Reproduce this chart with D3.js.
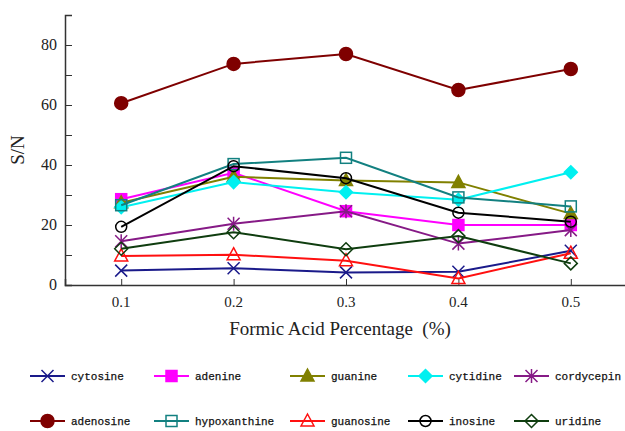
<!DOCTYPE html>
<html lang="en">
<head>
  <meta charset="UTF-8" />
  <title>S/N vs Formic Acid Percentage</title>
  <script src="https://d3js.org/d3.v7.min.js"></script>
  <style>
    html, body { margin: 0; padding: 0; background: #fff; }
    svg { display: block; }
    .axis-text { font-family: "Liberation Serif", "DejaVu Serif", serif; fill: #222; }
    .legend-text { font-family: "Liberation Mono", "DejaVu Sans Mono", monospace; font-size: 11px; fill: #111; stroke: #111; stroke-width: 0.25px; }
  </style>
</head>
<body>
<div id="chart"></div>
<script>
const percents = [0.1, 0.2, 0.3, 0.4, 0.5];
const yTicks = [0, 20, 40, 60, 80];

const cytosine     = [4.8, 5.6, 4.2, 4.4, 11.4];
const adenine      = [28.6, 37.4, 24.6, 20, 20];
const guanine      = [27.4, 36.1, 34.8, 34.2, 23.8];
const cytidine     = [25.9, 34.3, 30.9, 28.4, 37.6];
const cordycepin   = [14.6, 20.4, 24.6, 13.8, 18.3];
const adenosine    = [60.6, 73.7, 77, 65, 72];
const hypoxanthine = [26.6, 40.3, 42.4, 29.2, 26.2];
const guanosine    = [9.7, 10.1, 8.1, 2.2, 10.6];
const inosine      = [19.4, 39.6, 35.6, 24.1, 21.1];
const uridine      = [12.1, 17.6, 11.9, 16.3, 7.2];

const series = [
  { name: "cytosine",     values: cytosine,     color: "#1a1a8a", shape: "x" },
  { name: "adenine",      values: adenine,      color: "#ff00ff", shape: "square", fill: true },
  { name: "guanine",      values: guanine,      color: "#808000", shape: "triangle", fill: true },
  { name: "cytidine",     values: cytidine,     color: "#00f0f0", shape: "diamond", fill: true },
  { name: "cordycepin",   values: cordycepin,   color: "#861a86", shape: "star" },
  { name: "adenosine",    values: adenosine,    color: "#7f0000", shape: "circle", fill: true },
  { name: "hypoxanthine", values: hypoxanthine, color: "#128080", shape: "square" },
  { name: "guanosine",    values: guanosine,    color: "#ff1010", shape: "triangle" },
  { name: "inosine",      values: inosine,      color: "#000000", shape: "circle" },
  { name: "uridine",      values: uridine,      color: "#0f3d0f", shape: "diamond" }
];

const W = 625, H = 431;
const svg = d3.select("#chart").append("svg").attr("width", W).attr("height", H);

const x = d3.scaleLinear().domain([0.05, 0.55]).range([65, 627]);
const y = d3.scaleLinear().domain([0, 90]).range([285, 15]);

// axes
const yAxis = svg.append("g").attr("transform", "translate(65,0)")
  .call(d3.axisRight(y).tickValues(d3.range(0, 91, 10)).tickSize(7).tickFormat(""));
yAxis.select(".domain").attr("stroke", "#333").attr("stroke-width", 1.5);
yAxis.selectAll(".tick line").attr("stroke", "#333");

const xAxis = svg.append("g").attr("transform", "translate(0,285)")
  .call(d3.axisTop(x).tickValues(percents).tickSize(6).tickFormat(""));
xAxis.select(".domain").attr("stroke", "#333").attr("stroke-width", 1.5);
xAxis.selectAll(".tick line").attr("stroke", "#333");

svg.selectAll(".ytl").data(yTicks).join("text")
  .attr("class", "axis-text")
  .attr("x", 57).attr("y", d => y(d) + 5)
  .attr("text-anchor", "end").attr("font-size", 16)
  .text(d => d);

svg.selectAll(".xtl").data(percents).join("text")
  .attr("class", "axis-text")
  .attr("x", d => x(d)).attr("y", 307)
  .attr("text-anchor", "middle").attr("font-size", 15)
  .text(d => d3.format(".1f")(d));

svg.append("text").attr("class", "axis-text")
  .attr("x", 340).attr("y", 335).attr("text-anchor", "middle").attr("font-size", 19)
  .text("Formic Acid Percentage\u00a0\u00a0(%)");

svg.append("text").attr("class", "axis-text")
  .attr("transform", "translate(24,150) rotate(-90)")
  .attr("text-anchor", "middle").attr("font-size", 19)
  .text("S/N");

function drawMarker(g, s, cx, cy) {
  const fill = s.fill ? s.color : "none";
  const sw = 1.5;
  if (s.shape === "circle") {
    g.append("circle").attr("cx", cx).attr("cy", cy).attr("r", s.fill ? 6.5 : 5.5)
      .attr("fill", fill).attr("stroke", s.color).attr("stroke-width", sw);
  } else if (s.shape === "square") {
    g.append("rect").attr("x", cx - 5.5).attr("y", cy - 5.5).attr("width", 11).attr("height", 11)
      .attr("fill", fill).attr("stroke", s.color).attr("stroke-width", sw);
  } else if (s.shape === "triangle") {
    g.append("path").attr("d", `M${cx},${cy - 7}L${cx + 6.5},${cy + 5}L${cx - 6.5},${cy + 5}Z`)
      .attr("fill", fill).attr("stroke", s.color).attr("stroke-width", sw);
  } else if (s.shape === "diamond") {
    g.append("path").attr("d", `M${cx},${cy - 6.5}L${cx + 6.5},${cy}L${cx},${cy + 6.5}L${cx - 6.5},${cy}Z`)
      .attr("fill", fill).attr("stroke", s.color).attr("stroke-width", sw);
  } else if (s.shape === "x") {
    g.append("path").attr("d", `M${cx - 6},${cy - 6}L${cx + 6},${cy + 6}M${cx - 6},${cy + 6}L${cx + 6},${cy - 6}`)
      .attr("stroke", s.color).attr("stroke-width", sw);
  } else if (s.shape === "star") {
    g.append("path").attr("d", `M${cx - 6},${cy - 6}L${cx + 6},${cy + 6}M${cx - 6},${cy + 6}L${cx + 6},${cy - 6}M${cx},${cy - 7}L${cx},${cy + 7}`)
      .attr("stroke", s.color).attr("stroke-width", sw);
  }
}

const line = d3.line().x((d, i) => x(percents[i])).y(d => y(d));

series.forEach(s => {
  const g = svg.append("g");
  g.append("path").datum(s.values)
    .attr("d", line).attr("fill", "none")
    .attr("stroke", s.color).attr("stroke-width", 2);
  s.values.forEach((v, i) => drawMarker(g, s, x(percents[i]), y(v)));
});

// legend
const legX = [30, 154, 290, 408, 514];
const legY = [376, 421];
series.forEach((s, i) => {
  const lx = legX[i % 5], ly = legY[Math.floor(i / 5)];
  const g = svg.append("g");
  g.append("line").attr("x1", lx).attr("x2", lx + 35).attr("y1", ly).attr("y2", ly)
    .attr("stroke", s.color).attr("stroke-width", 2);
  drawMarker(g, s, lx + 17.5, ly);
  g.append("text").attr("class", "legend-text")
    .attr("x", lx + 41).attr("y", ly + 4)
    .text(s.name);
});
</script>
</body>
</html>
